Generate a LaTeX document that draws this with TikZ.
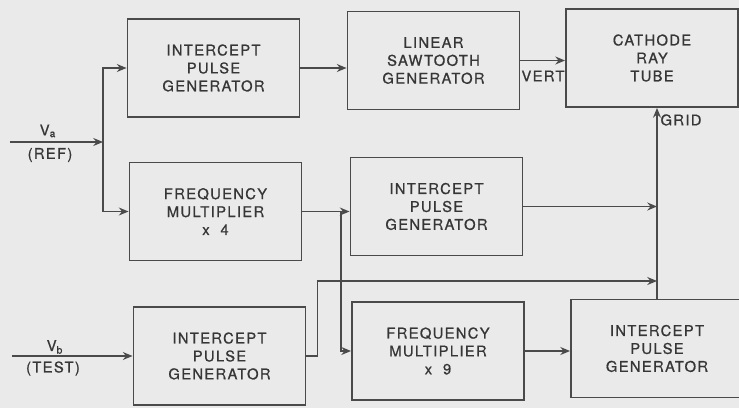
\documentclass[tikz,border=0pt]{standalone}
\usepackage{fontspec}
\usetikzlibrary{arrows.meta, positioning, calc}
\newfontfamily\lettering[LetterSpace=9, FakeBold=0.8]{TeX Gyre Heros}
\definecolor{PaperGray}{HTML}{EAEAEA}
\definecolor{InkGray}{HTML}{4A4A4A}
\definecolor{TextInk}{HTML}{363636}

\begin{document}
\begin{tikzpicture}[>={Stealth[length=5.5pt,width=4.5pt]},
    block/.style={draw=InkGray, line width=1.1pt, minimum width=3.44cm, minimum height=1.96cm,
        align=center, font=\lettering\fontsize{8.4}{10.2}\selectfont, text=TextInk},
    wire/.style={draw=InkGray, line width=1.1pt},
    tag/.style={font=\lettering\fontsize{8.4}{10}\selectfont, text=TextInk, inner sep=1pt}]

    % 0. Paper and frame
    \fill[PaperGray] (0,0) rectangle (14.78,8.16);
    \useasboundingbox (0,0) rectangle (14.78,8.16);

    % 1. Blocks (top row, middle row, bottom row)
    \node[block] (ipgTop)   at (4.27,6.80) {INTERCEPT\\PULSE\\GENERATOR};
    \node[block] (sawGen)   at (8.67,6.95) {LINEAR\\SAWTOOTH\\GENERATOR};
    \node[block] (crt)      at (13.04,7.00) {CATHODE\\RAY\\TUBE};
    \node[block] (fmulFour) at (4.31,3.93) {FREQUENCY\\MULTIPLIER\\x\ \ 4};
    \node[block] (ipgMid)   at (8.73,4.03) {INTERCEPT\\PULSE\\GENERATOR};
    \node[block] (ipgTest)  at (4.39,1.04) {INTERCEPT\\PULSE\\GENERATOR};
    \node[block] (fmulNine) at (8.76,1.14) {FREQUENCY\\MULTIPLIER\\x\ \ 9};
    \node[block] (ipgOut)   at (13.14,1.19) {INTERCEPT\\PULSE\\GENERATOR};

    % 2. Reference input V_a
    \coordinate (refIn) at (0.2,5.32);
    \coordinate (refSplit) at (2.06,5.32);
    \draw[wire,->] (refIn) -- (refSplit);
    \draw[wire,->] (refSplit) |- (ipgTop.west);
    \draw[wire,->] (refSplit) |- (fmulFour.west);
    \node[tag] (refName) at (0.96,5.54) {V\textsubscript{a}};
    \node[tag] (refNote) at (1.00,5.06) {(REF)};

    % 3. Sweep chain
    \draw[wire,->] (ipgTop.east) -- (ipgTop.east -| sawGen.west);
    \draw[wire,->] (sawGen.east) -- (sawGen.east -| crt.west);
    \node[tag] (vertTag) at (10.86,6.64) {VERT};

    % 4. x4 branch
    \coordinate (fourSplit) at ([xshift=0.77cm]fmulFour.east);
    \draw[wire,->] (fmulFour.east) -- (fmulFour.east -| ipgMid.west);
    \draw[wire,->] (fourSplit) |- (fmulNine.west);
    \draw[wire,->] (fmulNine.east) -- (fmulNine.east -| ipgOut.west);

    % 5. Test input V_b
    \coordinate (testIn) at (0.24,1.04);
    \draw[wire,->] (testIn) -- (ipgTest.west);
    \node[tag] (testName) at (1.10,1.22) {V\textsubscript{b}};
    \node[tag] (testNote) at (1.06,0.79) {(TEST)};

    % 6. Grid bus
    \coordinate (testTurn) at (6.35,2.54);
    \draw[wire,->] (ipgTest.east) -| (testTurn) -- (testTurn -| ipgOut.north);
    \draw[wire,->] (ipgMid.east) -- (ipgMid.east -| ipgOut.north);
    \draw[wire,->] (ipgOut.north) -- (ipgOut.north |- crt.south);
    \node[tag] (gridTag) at (13.62,5.76) {GRID};
\end{tikzpicture}
\end{document}
